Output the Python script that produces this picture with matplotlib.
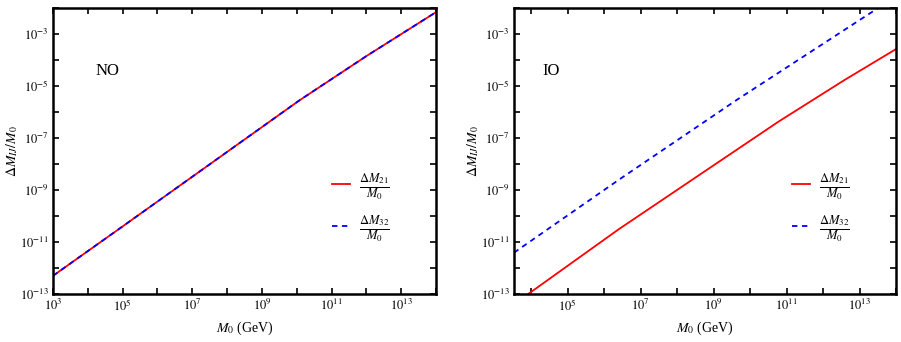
import numpy as np
import matplotlib
matplotlib.use("Agg")
import matplotlib.pyplot as plt
from matplotlib.ticker import FixedLocator, FuncFormatter, NullFormatter

plt.rcParams['font.family'] = ['Liberation Serif', 'DejaVu Serif']
plt.rcParams['mathtext.fontset'] = 'stix'

# log10 values
no_logm0 = [3.0, 5.0, 7.22, 10.08, 12.0, 14.0]
no_log21 = [-12.3, -10.4, -8.28, -5.55, -3.85, -2.16]
no_log32 = [-12.3, -10.4, -8.28, -5.55, -3.85, -2.16]

io_logm0_21 = [3.92, 6.40, 10.78, 12.6, 14.0]
io_log21 = [-13.0, -10.51, -6.37, -4.76, -3.58]
io_logm0_32 = [3.53, 6.40, 9.64, 13.51]
io_log32 = [-11.41, -8.61, -5.53, -2.0]

# labelled (odd) and unlabelled (even) decades
x_major = [3, 5, 7, 9, 11, 13]
x_minor = [4, 6, 8, 10, 12, 14]
y_major = [-13, -11, -9, -7, -5, -3]
y_minor = [-12, -10, -8, -6, -4, -2]

panels = [
    ("NO", 1e3, no_logm0, no_log21, no_logm0, no_log32),
    ("IO", 10**3.53, io_logm0_21, io_log21, io_logm0_32, io_log32),
]

fig = plt.figure(figsize=(9.01, 3.42), dpi=100)
rects = [[53/901, 48/342, 383/901, 286/342],
         [514/901, 48/342, 382/901, 286/342]]


def pow_fmt(v, pos):
    return r"$10^{%d}$" % int(round(np.log10(v)))


for rect, (name, xmin, x21, y21, x32, y32) in zip(rects, panels):
    ax = fig.add_axes(rect)
    ax.plot(10**np.array(x21), 10**np.array(y21), color='red', lw=1.3,
            label=r"$\frac{\Delta M_{21}}{M_0}$")
    ax.plot(10**np.array(x32), 10**np.array(y32), color='blue', lw=1.3,
            ls=(0, (3, 2.5)), label=r"$\frac{\Delta M_{32}}{M_0}$")
    ax.set_xscale('log')
    ax.set_yscale('log')
    ax.set_xlim(xmin, 1e14)
    ax.set_ylim(1e-13, 1e-2)
    xm = [10.0**e for e in x_major if 10.0**e >= xmin]
    ax.xaxis.set_major_locator(FixedLocator(xm))
    ax.xaxis.set_minor_locator(FixedLocator([10.0**e for e in x_minor]))
    ax.yaxis.set_major_locator(FixedLocator([10.0**e for e in y_major]))
    ax.yaxis.set_minor_locator(FixedLocator([10.0**e for e in y_minor]))
    ax.xaxis.set_major_formatter(FuncFormatter(pow_fmt))
    ax.yaxis.set_major_formatter(FuncFormatter(pow_fmt))
    ax.xaxis.set_minor_formatter(NullFormatter())
    ax.yaxis.set_minor_formatter(NullFormatter())
    ax.tick_params(which='both', direction='in', top=True, right=True,
                   length=4, width=1.2, labelsize=9, pad=3)
    for s in ax.spines.values():
        s.set_linewidth(1.8)
    ax.set_xlabel(r"$M_0$ (GeV)", fontsize=10)
    ax.set_ylabel(r"$\Delta M_{IJ}/M_0$", fontsize=10)
    ax.xaxis.set_label_coords(0.5, -0.091)
    ax.yaxis.set_label_coords(-0.086, 0.5)
    ax.text(0.11 if name == "NO" else 0.075, 0.78, name, transform=ax.transAxes,
            fontsize=12, va='center')
    ax.legend(loc='center left', bbox_to_anchor=(0.685, 0.30), frameon=False,
              fontsize=13, handlelength=1.0, labelspacing=0.6, handletextpad=0.5)

fig.savefig("out.png", dpi=100)
